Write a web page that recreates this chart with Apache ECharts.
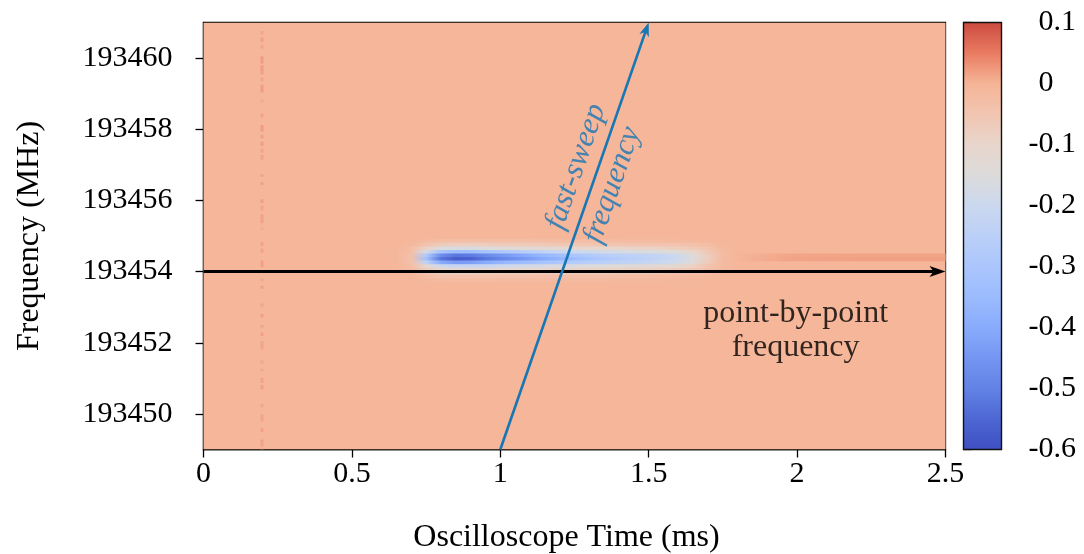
<!DOCTYPE html>
<html><head><meta charset="utf-8">
<script src="https://cdn.jsdelivr.net/npm/echarts@6.0.0/dist/echarts.min.js"></script>
<style>html,body{margin:0;padding:0;background:#fff}#c{width:1084px;height:554px}</style>
</head><body><div id="c"></div>
<script>
// ---------- axes ----------
const X_RANGE = [0, 2.5];
const X_TICKS = [0, 0.5, 1, 1.5, 2, 2.5];
const Y_RANGE = [193449, 193461];
const Y_TICKS = [193450, 193452, 193454, 193456, 193458, 193460];
const V_RANGE = [-0.6, 0.1];
const CB_TICKS = [-0.6, -0.5, -0.4, -0.3, -0.2, -0.1, 0, 0.1];
// colour scale sampled from the colour bar, evenly spaced from -0.6 to 0.1 (step 0.05)
const COLORS = ['#3e4fc2', '#4d66d2', '#6282e5', '#7595f2', '#89abfc', '#9bbbfe', '#abc6fd', '#bbd0f8',
  '#cbd8ee', '#dcdbdb', '#e8d5cb', '#f2c5b1', '#f5b496', '#e97a61', '#cb4a3f'];

// ---------- data ----------
const BACKGROUND_VALUE = -0.005;

// vertical dashed stripe near t = 0.197 ms : [freqLow, freqHigh, value]
const dashTimes = [0.192, 0.202];
const dashSegments = [
  [193460.67, 193460.76, 0.012], [193460.45, 193460.58, 0.016], [193460.27, 193460.36, 0.012],
  [193459.85, 193460.05, 0.02], [193459.54, 193459.80, 0.018], [193459.35, 193459.45, 0.012],
  [193459.03, 193459.25, 0.02], [193458.75, 193458.83, 0.01], [193458.33, 193458.44, 0.014],
  [193457.94, 193458.12, 0.02], [193457.74, 193457.84, 0.016], [193457.53, 193457.65, 0.018],
  [193457.34, 193457.45, 0.012], [193457.14, 193457.28, 0.014], [193456.66, 193456.74, 0.012],
  [193456.43, 193456.52, 0.016], [193455.93, 193456.03, 0.018], [193455.72, 193455.86, 0.012],
  [193455.36, 193455.61, 0.016], [193455.17, 193455.25, 0.006], [193454.71, 193454.83, 0.014],
  [193454.52, 193454.65, 0.012], [193454.12, 193454.31, 0.016], [193453.73, 193453.80, 0.012],
  [193453.52, 193453.60, 0.016], [193453.01, 193453.10, 0.012], [193452.71, 193452.81, 0.016],
  [193452.43, 193452.50, 0.014], [193452.19, 193452.29, 0.016], [193451.82, 193452.05, 0.012],
  [193451.41, 193451.51, 0.01], [193451.20, 193451.27, 0.012], [193450.87, 193451.01, 0.014],
  [193450.69, 193450.81, 0.016], [193450.19, 193450.28, 0.012], [193449.79, 193449.99, 0.012],
  [193449.49, 193449.60, 0.016], [193449.08, 193449.28, 0.014], [193449.00, 193449.03, 0.01]
];

// blue absorption streak, rows of 0.1 MHz
const ROW_HEIGHT = 0.1;
const blueTimes = [0.65, 0.70, 0.75, 0.80, 0.85, 0.90, 0.95, 1.00, 1.05, 1.10, 1.15, 1.20,
  1.25, 1.30, 1.35, 1.40, 1.45, 1.50, 1.55, 1.60, 1.65, 1.70, 1.75, 1.80];
const blue_193454_85 = [-0.005,-0.01,-0.02,-0.03,-0.032,-0.032,-0.03,-0.03,-0.03,-0.03,-0.028,-0.026,-0.025,-0.025,-0.024,-0.024,-0.022,-0.02,-0.02,-0.018,-0.015,-0.012,-0.008,-0.005];
const blue_193454_75 = [-0.006,-0.015,-0.04,-0.07,-0.08,-0.08,-0.075,-0.07,-0.07,-0.065,-0.06,-0.055,-0.055,-0.05,-0.05,-0.05,-0.045,-0.045,-0.045,-0.04,-0.035,-0.025,-0.01,-0.005];
const blue_193454_65 = [-0.008,-0.025,-0.09,-0.15,-0.16,-0.16,-0.15,-0.14,-0.13,-0.125,-0.12,-0.115,-0.11,-0.105,-0.10,-0.10,-0.095,-0.09,-0.085,-0.075,-0.065,-0.045,-0.015,-0.005];
const blue_193454_55 = [-0.01,-0.03,-0.17,-0.30,-0.34,-0.33,-0.31,-0.29,-0.27,-0.25,-0.23,-0.21,-0.20,-0.19,-0.18,-0.17,-0.16,-0.155,-0.15,-0.13,-0.10,-0.055,-0.02,-0.005];
const blue_193454_45 = [-0.01,-0.035,-0.28,-0.47,-0.52,-0.51,-0.48,-0.45,-0.42,-0.39,-0.36,-0.33,-0.30,-0.28,-0.26,-0.25,-0.24,-0.23,-0.22,-0.19,-0.14,-0.075,-0.02,-0.005];
const blue_193454_35 = [-0.01,-0.035,-0.32,-0.52,-0.57,-0.56,-0.52,-0.49,-0.46,-0.43,-0.40,-0.37,-0.34,-0.31,-0.29,-0.27,-0.25,-0.24,-0.22,-0.20,-0.15,-0.075,-0.02,-0.005];
const blue_193454_25 = [-0.01,-0.035,-0.23,-0.40,-0.44,-0.43,-0.40,-0.37,-0.35,-0.33,-0.31,-0.29,-0.27,-0.26,-0.25,-0.24,-0.23,-0.22,-0.20,-0.18,-0.13,-0.065,-0.02,-0.005];
const blue_193454_15 = [-0.01,-0.025,-0.12,-0.20,-0.22,-0.22,-0.21,-0.20,-0.19,-0.18,-0.17,-0.16,-0.16,-0.15,-0.15,-0.14,-0.14,-0.13,-0.13,-0.12,-0.09,-0.045,-0.02,-0.005];
const blue_193454_05 = [-0.008,-0.02,-0.07,-0.11,-0.12,-0.12,-0.115,-0.11,-0.105,-0.10,-0.10,-0.095,-0.09,-0.09,-0.09,-0.085,-0.08,-0.08,-0.075,-0.065,-0.055,-0.035,-0.015,-0.005];
const blue_193453_95 = [-0.006,-0.015,-0.045,-0.07,-0.075,-0.075,-0.07,-0.07,-0.065,-0.065,-0.06,-0.06,-0.06,-0.055,-0.055,-0.05,-0.05,-0.05,-0.045,-0.04,-0.035,-0.025,-0.01,-0.005];
const blue_193453_85 = [-0.005,-0.01,-0.025,-0.04,-0.042,-0.042,-0.04,-0.038,-0.036,-0.035,-0.033,-0.032,-0.03,-0.03,-0.028,-0.027,-0.025,-0.024,-0.022,-0.02,-0.016,-0.012,-0.008,-0.005];
const blue_193453_75 = [-0.005,-0.007,-0.012,-0.018,-0.02,-0.02,-0.02,-0.018,-0.018,-0.017,-0.016,-0.015,-0.015,-0.014,-0.014,-0.013,-0.012,-0.012,-0.011,-0.01,-0.009,-0.008,-0.006,-0.005];
const blueRowFreqs = [193454.85, 193454.75, 193454.65, 193454.55, 193454.45, 193454.35,
  193454.25, 193454.15, 193454.05, 193453.95, 193453.85, 193453.75];
const blueRowValues = [blue_193454_85, blue_193454_75, blue_193454_65, blue_193454_55, blue_193454_45,
  blue_193454_35, blue_193454_25, blue_193454_15, blue_193454_05, blue_193453_95, blue_193453_85, blue_193453_75];

// faint red streak after the pulse
const redTimes = [1.75, 1.80, 1.85, 1.90, 1.95, 2.00, 2.10, 2.20, 2.30, 2.40, 2.50];
const red_193454_45 = [-0.02, -0.004, 0.003, 0.007, 0.010, 0.013, 0.014, 0.015, 0.015, 0.015, 0.015];
const red_193454_35 = [-0.02, -0.004, 0.004, 0.008, 0.012, 0.015, 0.016, 0.017, 0.017, 0.017, 0.017];
const redRowFreqs = [193454.45, 193454.35];
const redRowValues = [red_193454_45, red_193454_35];

// annotations
const pointByPointArrow = [0, 193454, 2.5, 193454];
const fastSweepArrow = [1.0, 193449, 1.5, 193461];
const fastSweepLabelPos = [1.255, 193456.95];
const fastSweepFreqLabelPos = [1.378, 193456.43];
const pointByPointLabelPos = [1.995, 193452.34];

// ---------- helpers ----------
const BLUE = '#1776b6';
const FONT = 'Liberation Serif';
const vToColor = v => echarts.color.lerp((v - V_RANGE[0]) / (V_RANGE[1] - V_RANGE[0]), COLORS);

const cellData = [[X_RANGE[0], X_RANGE[1], Y_RANGE[0], Y_RANGE[1], BACKGROUND_VALUE]]
  .concat(dashSegments.map(s => [dashTimes[0], dashTimes[1], s[0], s[1], s[2]]));

function renderCell(params, api) {
  const p0 = api.coord([api.value(0), api.value(3)]);
  const p1 = api.coord([api.value(1), api.value(2)]);
  const c = vToColor(api.value(4));
  return { type: 'rect', shape: { x: p0[0], y: p0[1], width: p1[0] - p0[0], height: p1[1] - p0[1] },
    style: { fill: c } };
}

function makeRowRenderer(times, rows) {
  return function (params, api) {
    const idx = api.value(2);
    const f = api.value(1);
    const vals = rows[idx];
    const p0 = api.coord([times[0], f + ROW_HEIGHT / 2]);
    const p1 = api.coord([times[times.length - 1], f - ROW_HEIGHT / 2]);
    const span = times[times.length - 1] - times[0];
    const stops = times.map((t, i) => ({ offset: (t - times[0]) / span, color: vToColor(vals[i]) }));
    return { type: 'rect',
      shape: { x: p0[0], y: p0[1] - 0.3, width: p1[0] - p0[0], height: p1[1] - p0[1] + 0.6 },
      style: { fill: new echarts.graphic.LinearGradient(0, 0, 1, 0, stops) } };
  };
}

function makeArrowRenderer(color, width, headLen, headHalf) {
  return function (params, api) {
    const a = api.coord([api.value(0), api.value(1)]);
    const b = api.coord([api.value(2), api.value(3)]);
    const dx = b[0] - a[0], dy = b[1] - a[1];
    const L = Math.sqrt(dx * dx + dy * dy);
    const ux = dx / L, uy = dy / L, nx = -uy, ny = ux;
    const back = [b[0] - ux * headLen, b[1] - uy * headLen];
    const inner = [b[0] - ux * (headLen - 4), b[1] - uy * (headLen - 4)];
    return { type: 'group', children: [
      { type: 'line', shape: { x1: a[0], y1: a[1], x2: inner[0], y2: inner[1] },
        style: { stroke: color, lineWidth: width } },
      { type: 'polygon', shape: { points: [b, [back[0] + nx * headHalf, back[1] + ny * headHalf], inner,
        [back[0] - nx * headHalf, back[1] - ny * headHalf]] }, style: { fill: color } }
    ] };
  };
}

function renderColorbar(params, api) {
  const p0 = api.coord([0, V_RANGE[1]]);
  const p1 = api.coord([1, V_RANGE[0]]);
  const n = COLORS.length;
  const stops = COLORS.map((c, i) => ({ offset: (n - 1 - i) / (n - 1), color: c })).reverse();
  return { type: 'rect', shape: { x: p0[0], y: p0[1], width: p1[0] - p0[0], height: p1[1] - p0[1] },
    style: { fill: new echarts.graphic.LinearGradient(0, 0, 0, 1, stops), stroke: '#111', lineWidth: 1.4 } };
}

const labelStyle = { fontFamily: FONT, fontSize: 30, color: '#000', lineHeight: 30 };
const nameStyle = { fontFamily: FONT, fontSize: 32, color: '#000', lineHeight: 32 };
const AXIS_COLOR = '#000';

const chart = echarts.init(document.getElementById('c'), null, { renderer: 'canvas' });
chart.setOption({
  animation: false,
  backgroundColor: '#fff',
  grid: [
    { left: 203.5, top: 22.5, width: 742, height: 427, show: true, borderColor: AXIS_COLOR, borderWidth: 1.3,
      backgroundColor: 'transparent', containLabel: false, outerBoundsMode: 'none' },
    { left: 963.5, top: 22.5, width: 38, height: 427, show: false, containLabel: false, outerBoundsMode: 'none' }
  ],
  xAxis: [
    { type: 'value', gridIndex: 0, min: X_RANGE[0], max: X_RANGE[1], interval: 0.5,
      name: 'Oscilloscope Time (ms)', nameLocation: 'middle', nameGap: 72,
      nameTextStyle: Object.assign({}, nameStyle, { padding: [0, 16, 0, 0] }),
      axisLine: { onZero: false, lineStyle: { color: AXIS_COLOR, width: 1.3 } },
      axisTick: { length: 8, lineStyle: { color: AXIS_COLOR, width: 1.3 } },
      axisLabel: Object.assign({ margin: 10, formatter: v => String(v) }, labelStyle),
      splitLine: { show: false } },
    { type: 'value', gridIndex: 1, min: 0, max: 1, show: false }
  ],
  yAxis: [
    { type: 'value', gridIndex: 0, min: Y_RANGE[0], max: Y_RANGE[1],
      name: 'Frequency (MHz)', nameLocation: 'middle', nameGap: 158,
      nameTextStyle: nameStyle,
      axisLine: { onZero: false, lineStyle: { color: AXIS_COLOR, width: 1.3 } },
      axisTick: { length: 8, customValues: Y_TICKS, lineStyle: { color: AXIS_COLOR, width: 1.3 } },
      axisLabel: Object.assign({ margin: 31, customValues: Y_TICKS, formatter: v => String(v) }, labelStyle),
      splitLine: { show: false } },
    { type: 'value', gridIndex: 1, position: 'right', min: V_RANGE[0], max: V_RANGE[1],
      axisLine: { show: false },
      axisTick: { length: 8, customValues: CB_TICKS, lineStyle: { color: AXIS_COLOR, width: 1.3 } },
      axisLabel: { margin: 27, customValues: CB_TICKS,
        formatter: v => { const s = String(Math.round(v * 10) / 10); return v < -1e-9 ? '{n|' + s + '}' : '{p|' + s + '}'; },
        rich: { n: Object.assign({}, labelStyle), p: Object.assign({ padding: [0, 0, 0, 10] }, labelStyle) } },
      splitLine: { show: false } }
  ],
  series: [
    { type: 'custom', name: 'cells', xAxisIndex: 0, yAxisIndex: 0, clip: true, silent: true,
      renderItem: renderCell, data: cellData, encode: { x: [0, 1], y: [2, 3] } },
    { type: 'custom', name: 'blue streak', xAxisIndex: 0, yAxisIndex: 0, clip: true, silent: true,
      renderItem: makeRowRenderer(blueTimes, blueRowValues),
      data: blueRowFreqs.map((f, i) => [blueTimes[0], f, i]), encode: { x: 0, y: 1 } },
    { type: 'custom', name: 'red streak', xAxisIndex: 0, yAxisIndex: 0, clip: true, silent: true,
      renderItem: makeRowRenderer(redTimes, redRowValues),
      data: redRowFreqs.map((f, i) => [redTimes[0], f, i]), encode: { x: 0, y: 1 } },
    { type: 'custom', name: 'point-by-point', xAxisIndex: 0, yAxisIndex: 0, clip: false, silent: true,
      renderItem: makeArrowRenderer('#000', 3, 16, 5.5), data: [pointByPointArrow], encode: { x: [0, 2], y: [1, 3] } },
    { type: 'custom', name: 'fast-sweep', xAxisIndex: 0, yAxisIndex: 0, clip: false, silent: true,
      renderItem: makeArrowRenderer(BLUE, 2.6, 14, 5), data: [fastSweepArrow], encode: { x: [0, 2], y: [1, 3] } },
    { type: 'scatter', xAxisIndex: 0, yAxisIndex: 0, symbolSize: 0, silent: true,
      data: [
        { value: fastSweepLabelPos, label: { formatter: 'fast-sweep' } },
        { value: fastSweepFreqLabelPos, label: { formatter: 'frequency' } }
      ],
      label: { show: true, position: 'inside', rotate: 70.8, fontFamily: FONT, fontSize: 31,
        fontStyle: 'italic', color: BLUE, align: 'center', verticalAlign: 'middle' } },
    { type: 'scatter', xAxisIndex: 0, yAxisIndex: 0, symbolSize: 0, silent: true,
      data: [{ value: pointByPointLabelPos }],
      label: { show: true, position: 'inside', formatter: 'point-by-point\nfrequency', fontFamily: FONT,
        fontSize: 32, lineHeight: 34, color: '#000', align: 'center', verticalAlign: 'middle' } },
    { type: 'custom', name: 'colorbar', xAxisIndex: 1, yAxisIndex: 1, clip: false, silent: true,
      renderItem: renderColorbar, data: [[0, V_RANGE[0]]], encode: { x: 0, y: 1 } }
  ]
});
</script></body></html>
